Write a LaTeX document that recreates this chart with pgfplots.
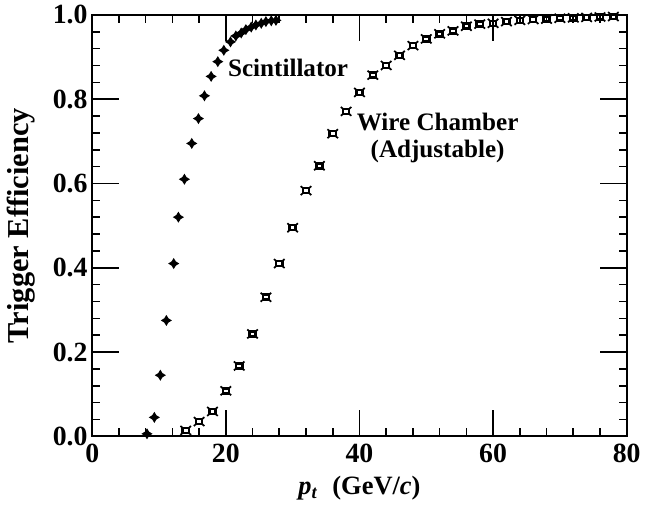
\documentclass[border=0pt]{standalone}
\usepackage{fontspec}
\setmainfont{Liberation Serif}
\usepackage{pgfplots}
\pgfplotsset{compat=1.18}

\pgfdeclareplotmark{fourstar}{%
  \pgfpathmoveto{\pgfqpoint{0pt}{\pgfplotmarksize}}%
  \pgfpathlineto{\pgfqpoint{0.38\pgfplotmarksize}{0.38\pgfplotmarksize}}%
  \pgfpathlineto{\pgfqpoint{\pgfplotmarksize}{0pt}}%
  \pgfpathlineto{\pgfqpoint{0.38\pgfplotmarksize}{-0.38\pgfplotmarksize}}%
  \pgfpathlineto{\pgfqpoint{0pt}{-\pgfplotmarksize}}%
  \pgfpathlineto{\pgfqpoint{-0.38\pgfplotmarksize}{-0.38\pgfplotmarksize}}%
  \pgfpathlineto{\pgfqpoint{-\pgfplotmarksize}{0pt}}%
  \pgfpathlineto{\pgfqpoint{-0.38\pgfplotmarksize}{0.38\pgfplotmarksize}}%
  \pgfpathclose
  \pgfusepathqfill
}
\pgfdeclareplotmark{wsq}{%
  \pgfsetlinewidth{1.9pt}%
  \pgfpathrectangle{\pgfqpoint{-0.55\pgfplotmarksize}{-0.45\pgfplotmarksize}}{\pgfqpoint{1.1\pgfplotmarksize}{0.9\pgfplotmarksize}}%
  \pgfusepathqstroke
  \pgfsetlinewidth{1.3pt}%
  \pgfpathmoveto{\pgfqpoint{0.55\pgfplotmarksize}{0.45\pgfplotmarksize}}\pgfpathlineto{\pgfqpoint{0.95\pgfplotmarksize}{0.8\pgfplotmarksize}}%
  \pgfpathmoveto{\pgfqpoint{-0.55\pgfplotmarksize}{0.45\pgfplotmarksize}}\pgfpathlineto{\pgfqpoint{-0.95\pgfplotmarksize}{0.8\pgfplotmarksize}}%
  \pgfpathmoveto{\pgfqpoint{0.55\pgfplotmarksize}{-0.45\pgfplotmarksize}}\pgfpathlineto{\pgfqpoint{0.95\pgfplotmarksize}{-0.8\pgfplotmarksize}}%
  \pgfpathmoveto{\pgfqpoint{-0.55\pgfplotmarksize}{-0.45\pgfplotmarksize}}\pgfpathlineto{\pgfqpoint{-0.95\pgfplotmarksize}{-0.8\pgfplotmarksize}}%
  \pgfusepathqstroke
}

\pgfplotstableread{
x y
8.2 0.006
9.3 0.045
10.2 0.145
11.1 0.275
12.2 0.41
12.9 0.52
13.8 0.61
14.9 0.695
15.9 0.754
16.8 0.808
17.8 0.854
18.8 0.889
19.7 0.916
20.7 0.936
21.5 0.95
22.3 0.957
23.0 0.965
23.8 0.971
24.5 0.976
25.3 0.980
26.0 0.984
26.8 0.986
27.5 0.987
}\scint

\pgfplotstableread{
x y
14 0.014
16 0.035
18 0.059
20 0.108
22 0.167
24 0.243
26 0.330
28 0.410
30 0.495
32 0.583
34 0.642
36 0.718
38 0.771
40 0.816
42 0.857
44 0.880
46 0.904
48 0.927
50 0.943
52 0.955
54 0.962
56 0.973
58 0.978
60 0.980
62 0.984
64 0.987
66 0.989
68 0.990
70 0.992
72 0.993
74 0.994
76 0.995
78 0.996
}\wire

\begin{document}
\begin{tikzpicture}
\begin{axis}[
  scale only axis,
  width=404.25pt, height=318.75pt,
  xmin=0, xmax=80, ymin=0, ymax=1,
  xtick={0,20,40,60,80},
  ytick={0,0.2,0.4,0.6,0.8,1.0},
  minor x tick num=4,
  minor y tick num=4,
  tick align=inside,
  tick pos=both,
  major tick length=20pt,
  minor tick length=6pt,
  axis line style={line width=1.5pt},
  every tick/.style={line width=1.2pt, black},
  /pgf/number format/assume math mode=true,
  ticklabel style={font=\fontsize{21}{24}\selectfont\bfseries},
  xticklabel style={yshift=-2pt},
  yticklabel style={/pgf/number format/.cd, fixed, fixed zerofill, precision=1},
  xlabel={\textbf{\textit{p}\textsubscript{\textit{t}}\hspace{0.55em}(GeV/\textit{c})}},
  ylabel={\textbf{Trigger Efficiency}},
  xlabel style={font=\fontsize{20}{24}\selectfont, at={(rel axis cs:0.5,-0.1224)}, anchor=center},
  ylabel style={font=\fontsize{23}{26}\selectfont, at={(rel axis cs:-0.1336,0.5)}, anchor=center},
  clip=false,
]
\path (rel axis cs:-0.1725,-0.1647) rectangle (rel axis cs:1.0241,1.0353);
\addplot[only marks, mark=fourstar, mark size=4.2pt, black] table[x=x,y=y] {\scint};
\addplot[only marks, mark=wsq, mark size=4.2pt, black] table[x=x,y=y] {\wire};
\node[anchor=west, font=\fontsize{19}{22}\selectfont\bfseries, inner sep=0pt] at (axis cs:20.3,0.875) {Scintillator};
\node[align=center, font=\fontsize{19}{21}\selectfont\bfseries, inner sep=0pt] at (axis cs:51.7,0.708) {Wire Chamber\\(Adjustable)};
\end{axis}
\end{tikzpicture}
\end{document}
